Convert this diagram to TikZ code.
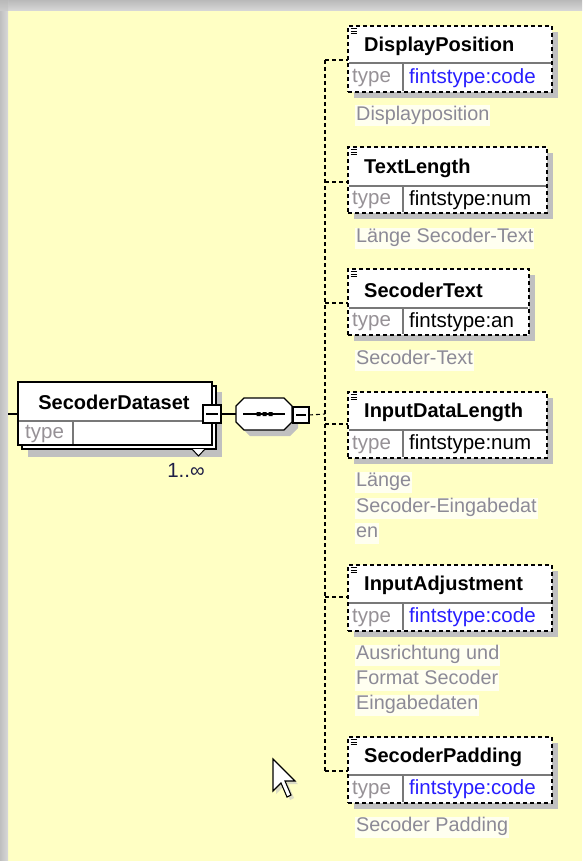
\documentclass[tikz,border=0pt]{standalone}
\usepackage{fontspec}
\setmainfont{Liberation Sans}
\usetikzlibrary{calc}
\definecolor{bgyellow}{RGB}{255,255,196}
\definecolor{shadowgray}{RGB}{192,192,192}
\definecolor{descgray}{RGB}{140,138,150}
\definecolor{typegray}{RGB}{150,145,150}
\definecolor{linkblue}{RGB}{40,30,255}
\definecolor{descbg}{RGB}{255,255,240}
\definecolor{rowgray}{RGB}{120,120,120}
\definecolor{navy}{RGB}{30,30,70}
\newcommand\hdrfont{\fontsize{20}{23}\selectfont\bfseries}
\newcommand\txtfont{\fontsize{20.5}{23}\selectfont}
\newcommand\dscfont{\fontsize{19.8}{23}\selectfont}
\tikzset{
  elbox/.style={anchor=north west, inner sep=0pt, outer sep=0pt, fill=white},
  dashedbox/.style={draw=black, line width=1.4pt, dash pattern=on 4pt off 3pt},
  solidbox/.style={draw=black, line width=1.2pt},
  rowline/.style={draw=rowgray, line width=1.2pt},
  iconline/.style={draw=black, line width=0.9pt},
  titletext/.style={anchor=west, inner sep=0pt, font=\hdrfont, text=black},
  typetext/.style={anchor=west, inner sep=0pt, font=\txtfont, text=typegray},
  valtext/.style={anchor=west, inner sep=0pt, font=\txtfont},
  desctext/.style={anchor=west, inner sep=1pt, font=\dscfont, text=descgray, fill=descbg, text height=14pt, text depth=5pt},
  conn/.style={draw=black, line width=1.1pt},
  dconn/.style={draw=black, line width=1.1pt, dash pattern=on 4pt off 3pt},
  minusbox/.style={draw=black, fill=white, line width=1.1pt, minimum size=#1, inner sep=0pt, outer sep=0pt},
}
\newcommand\childbox[9]{%
  \fill[shadowgray] (354,#2+6) rectangle (#3+6,#5+6);
  \node[elbox, dashedbox, minimum width={#3-348}, minimum height={#5-#2}] (#1) at (348,#2) {};
  \draw[rowline] (349,#4) -- (#3-1,#4);
  \draw[rowline] (403,#4) -- (403,#5-1);
  \draw[iconline] (350.5,#2+2.5) -- (357,#2+2.5) (350.5,#2+5) -- (357,#2+5) (350.5,#2+7.5) -- (357,#2+7.5);
  \node[titletext] (#1-t) at (364,{(#2+#4)/2+1.5}) {#6};
  \node[typetext] (#1-k) at (352,{(#4+#5)/2+0.5}) {type};
  \node[valtext, text=#8] (#1-v) at (409,{(#4+#5)/2+0.5}) {#7};
  \coordinate (#1-b) at (325,#9);
  \draw[dconn] (#1-b) -- (#1-b -| #1.west);
}
\newcommand\descline[3]{\node[desctext] (#1) at (355,#2) {#3};}
\begin{document}
\begin{tikzpicture}[x=1pt,y=-1pt]
\useasboundingbox (0,0) rectangle (582,861);
% background
\fill[bgyellow] (0,0) rectangle (582,861);
\shade[top color=gray!55, bottom color=gray!30] (0,0) rectangle (582,11);
\shade[left color=gray!50, right color=gray!30] (0,0) rectangle (8,861);
\shade[top color=gray!55, bottom color=gray!40] (0,0) rectangle (8,11);

% SecoderDataset
\fill[shadowgray] (28,392) rectangle (222,457);
\draw[solidbox, fill=white] (22,386) rectangle (216,449);
\node[elbox, solidbox, minimum width=194, minimum height=63] (sd) at (18,382) {};
\draw[rowline] (19,421) -- (211,421);
\draw[rowline] (73,421) -- (73,444);
\node[anchor=center, inner sep=0pt, font=\hdrfont] (sd-t) at (114,402) {SecoderDataset};
\node[typetext] (sd-k) at (25,433.5) {type};
\draw[solidbox, fill=white, line width=1pt] (192,449) -- (198.5,456) -- (205,449);
\node[inner sep=0pt, font=\txtfont, text=navy] (sd-m) at (186,470) {1..∞};
\node[minusbox=18pt] (sdminus) at (212,414) {};
\draw[line width=1.1pt] (206,414) -- (218,414);
\coordinate (lin) at (8,414);
\draw[conn] (lin) -- (sd.west |- lin);

% sequence compositor
\fill[shadowgray] (250,404) -- (290,404) -- (298,412) -- (298,428) -- (290,436) -- (250,436) -- (242,428) -- (242,412) -- cycle;
\node[inner sep=0pt, outer sep=0pt, minimum width=56pt, minimum height=32pt] (seq) at (264,414) {};
\draw[line width=1.1pt, fill=white] (244,398) -- (284,398) -- (292,406) -- (292,422) -- (284,430) -- (244,430) -- (236,422) -- (236,406) -- cycle;
\draw[line width=1.2pt] (243,414) -- (285,414);
\fill (256.5,412) rectangle +(4,4) (262.5,412) rectangle +(4,4) (268.5,412) rectangle +(4,4);
\node[minusbox=16pt] (seqminus) at (301,415) {};
\draw[line width=1.1pt] (296,415) -- (306,415);
\draw[conn] (sdminus.east) -- (seq.west);

% children
\childbox{dp}{26}{552}{63}{92}{DisplayPosition}{fintstype:code}{linkblue}{60}
\descline{dpd}{116}{Displayposition}
\childbox{tl}{147}{547}{186}{213}{TextLength}{fintstype:num}{black}{182}
\descline{tld}{238}{Länge Secoder-Text}
\childbox{st}{269}{529}{308}{335}{SecoderText}{fintstype:an}{black}{303}
\descline{std}{360}{Secoder-Text}
\childbox{idl}{392}{547}{430}{458}{InputDataLength}{fintstype:num}{black}{424}
\descline{idld1}{482}{Länge}
\descline{idld2}{508}{Secoder-Eingabedat}
\descline{idld3}{533}{en}
\childbox{ia}{565}{552}{603}{631}{InputAdjustment}{fintstype:code}{linkblue}{597}
\descline{iad1}{655}{Ausrichtung und}
\descline{iad2}{680}{Format Secoder}
\descline{iad3}{705}{Eingabedaten}
\childbox{sp}{737}{552}{775}{803}{SecoderPadding}{fintstype:code}{linkblue}{771}
\descline{spd}{827}{Secoder Padding}

% spine
\coordinate (spj) at (325,414);
\draw[dconn] (seqminus.east) -- (spj);
\draw[dconn] (dp-b) -- (sp-b);

% mouse cursor
\begin{scope}[shift={(273,759)}, scale=2]
\fill[gray!45, opacity=0.6] (1.5,1.5) -- (1.5,17.5) -- (5.5,13.5) -- (8.5,20.5) -- (10.5,19.5) -- (7.5,12.5) -- (12.5,12.5) -- cycle;
\draw[fill=white, line width=1.1pt, line join=miter] (0,0) -- (0,16) -- (4,12) -- (7,19) -- (9,18) -- (6,11) -- (11,11) -- cycle;
\end{scope}
\end{tikzpicture}
\end{document}
